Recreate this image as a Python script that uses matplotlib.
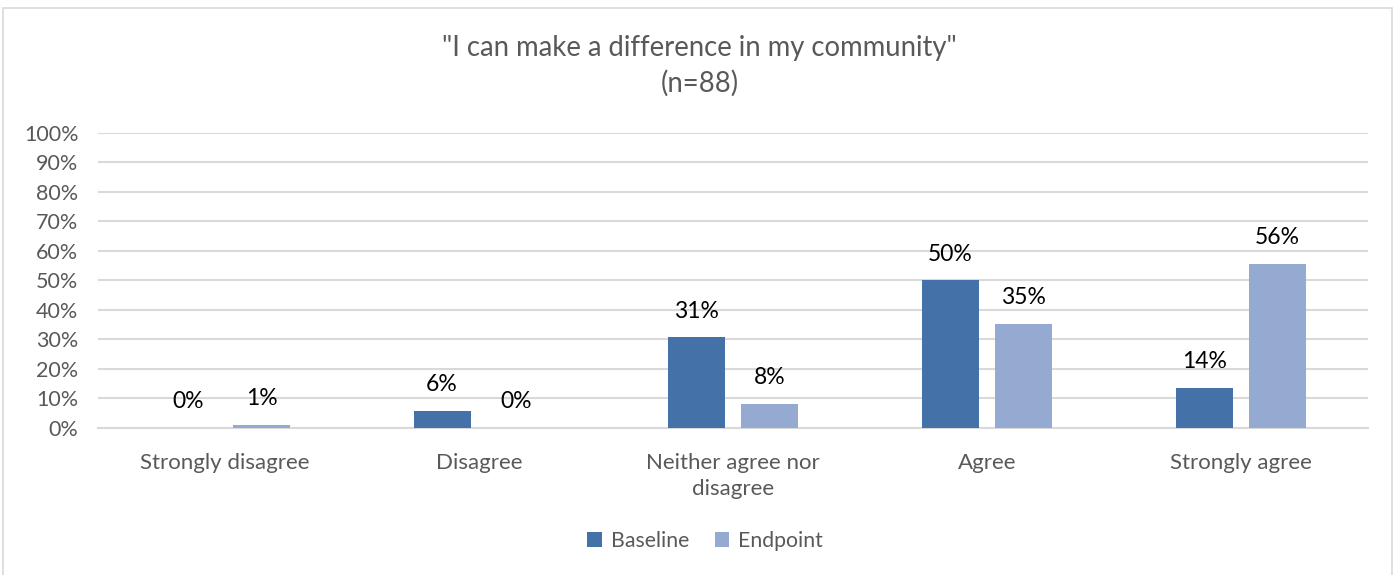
import numpy as np
import matplotlib.pyplot as plt
from matplotlib.patches import Rectangle
from matplotlib.ticker import PercentFormatter

plt.rcParams['font.family'] = ['Lato', 'DejaVu Sans']

categories = ['Strongly disagree', 'Disagree', 'Neither agree nor\ndisagree', 'Agree', 'Strongly agree']
baseline = [0.0, 5.7, 30.7, 50.0, 13.6]
endpoint = [1.1, 0.0, 8.0, 35.2, 55.7]
baseline_labels = ['0%', '6%', '31%', '50%', '14%']
endpoint_labels = ['1%', '0%', '8%', '35%', '56%']

c_base = '#4472a8'
c_end = '#95aad0'
grid_c = '#d9d9d9'
txt_c = '#595959'

fig = plt.figure(figsize=(13.99, 5.75), dpi=100)
ax = fig.add_axes([0.070, 0.2557, 0.9078, 0.5130])

x = np.arange(len(categories))
w = 0.225
off = 0.145
b1 = ax.bar(x - off, baseline, w, color=c_base, label='Baseline', zorder=3)
b2 = ax.bar(x + off, endpoint, w, color=c_end, label='Endpoint', zorder=3)

for bars, labs in [(b1, baseline_labels), (b2, endpoint_labels)]:
    for r, lab in zip(bars, labs):
        ax.annotate(lab, (r.get_x() + r.get_width() / 2, r.get_height()),
                    xytext=(0, 19), textcoords='offset points',
                    ha='center', va='center', fontsize=16.5, color='#000000')

ax.set_xlim(-0.5, 4.5)
ax.set_ylim(0, 100)
ax.set_yticks(np.arange(0, 101, 10))
ax.yaxis.set_major_formatter(PercentFormatter(decimals=0))
ax.set_xticks(x)
ax.set_xticklabels(categories, fontsize=16, color=txt_c, linespacing=1.35)
ax.tick_params(axis='y', labelsize=15.5, labelcolor=txt_c, length=0, pad=14)
ax.tick_params(axis='x', length=0, pad=18)
ax.grid(axis='y', color=grid_c, linewidth=1.5, zorder=0)
for s in ['top', 'right', 'left']:
    ax.spines[s].set_visible(False)
ax.spines['bottom'].set_color(grid_c)
ax.spines['bottom'].set_linewidth(1.5)

fig.text(0.5, 0.916, '"I can make a difference in my community"', ha='center', va='center',
         fontsize=19.8, color=txt_c)
fig.text(0.5, 0.856, '(n=88)', ha='center', va='center', fontsize=19.8, color=txt_c)

fig.legend(handles=[b1, b2], loc='center', bbox_to_anchor=(0.504, 0.059), ncol=2,
           frameon=False, fontsize=15.3, labelcolor=txt_c, handlelength=0.7, handleheight=0.7,
           handletextpad=0.4, columnspacing=1.2)

fig.patches.append(Rectangle((3 / 1399, -0.01), 1389 / 1399, 1 - 8 / 575 + 0.01,
                             transform=fig.transFigure, fill=False, edgecolor=grid_c, linewidth=1.2))

fig.savefig('out.png', dpi=100)
